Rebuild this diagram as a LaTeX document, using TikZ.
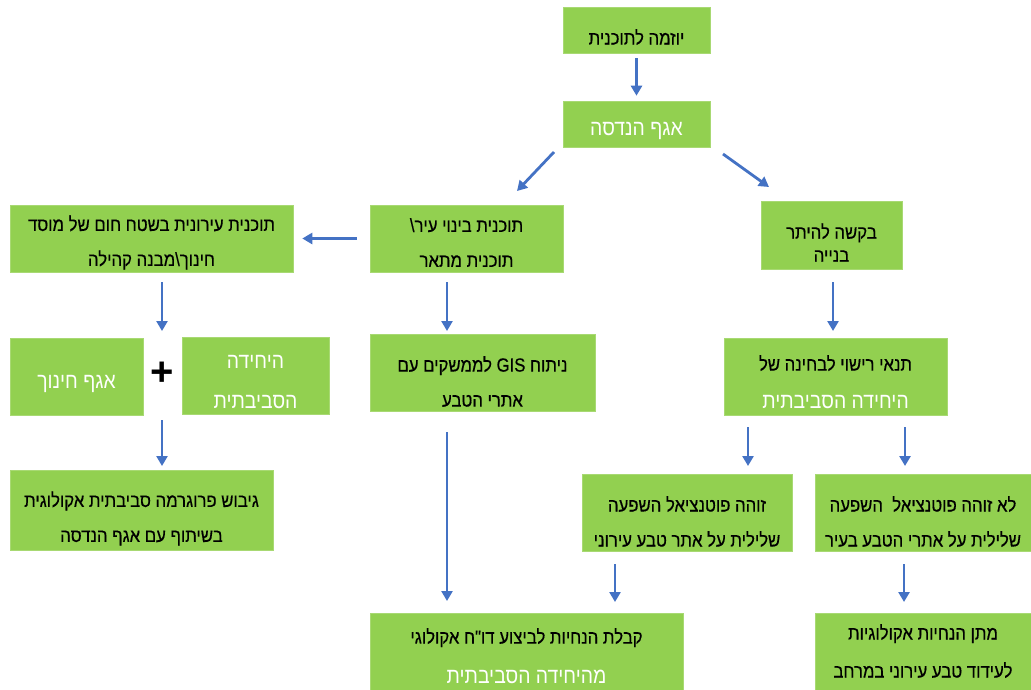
\documentclass[tikz,border=0pt]{standalone}
\usepackage{fontspec}
\usetikzlibrary{arrows.meta}
\newfontfamily\hebfont[Script=Hebrew, FakeStretch=0.88, FakeBold=0.4]{Liberation Sans}
\newfontfamily\hebwfont[Script=Hebrew, FakeStretch=0.88]{Liberation Sans}
\newfontfamily\plusfont{Liberation Sans}
\TeXXeTstate=1
\newcommand{\rl}[1]{\beginR #1\endR}
\newcommand{\wfont}[1]{\color{white}\hebwfont\fontsize{22}{#1}\selectfont}
\definecolor{boxgreen}{HTML}{92D050}
\definecolor{arrblue}{HTML}{4472C4}
\tikzset{
  box/.style={fill=boxgreen, draw=boxgreen!80!white, line width=0.6pt, inner sep=0pt},
  txt/.style={inner sep=0pt, align=center, text=black, font=\hebfont\fontsize{19}{35}\selectfont},
  wtxt/.style={inner sep=0pt, align=center, text=white, font=\hebwfont\fontsize{22}{40}\selectfont},
  arr/.style={draw=arrblue, line width=2.8pt, -{Triangle[length=10pt,width=11pt]}},
}
\begin{document}
\begin{tikzpicture}[x=1pt,y=-1pt]
\useasboundingbox (0,0) rectangle (1031,689);
% boxes
\node[box, minimum width=147, minimum height=46] (b1) at (636.5,30) {};
\node[box, minimum width=147, minimum height=46] (b2) at (636.5,124) {};
\node[box, minimum width=193, minimum height=67] (b3) at (466.5,238.5) {};
\node[box, minimum width=141, minimum height=68] (b4) at (831.5,235) {};
\node[box, minimum width=283, minimum height=67] (b5) at (151.5,238.5) {};
\node[box, minimum width=133, minimum height=77] (b6) at (76.5,376.5) {};
\node[box, minimum width=147, minimum height=77] (b7) at (255.5,375.5) {};
\node[box, minimum width=263, minimum height=80] (b8) at (141.5,510) {};
\node[box, minimum width=225, minimum height=77] (b9) at (482.5,372.5) {};
\node[box, minimum width=223, minimum height=77] (b10) at (835.5,376.5) {};
\node[box, minimum width=210, minimum height=77] (b11) at (687,512.5) {};
\node[box, minimum width=216, minimum height=77] (b12) at (923,512.5) {};
\node[box, minimum width=313, minimum height=78] (b13) at (526.5,652) {};
\node[box, minimum width=216, minimum height=78] (b14) at (923,652) {};
% texts
\node[txt] (t1) at (636.5,37) {\beginR יוזמה לתוכנית\endR};
\node[wtxt] (t2) at (636.5,131) {\beginR אגף הנדסה\endR};
\node[txt] (t3) at (466.5,242.5) {\beginR תוכנית בינוי עיר\textbackslash\endR\\\beginR תוכנית מתאר\endR};
\node[txt, font=\hebfont\fontsize{19}{23}\selectfont] (t4) at (831.5,242.5) {\beginR בקשה להיתר\endR\\\beginR בנייה\endR};
\node[txt] (t5) at (151.5,242.5) {\beginR תוכנית עירונית בשטח חום של מוסד\endR\\\beginR חינוך\textbackslash מבנה קהילה\endR};
\node[wtxt] (t6) at (76.5,384) {\beginR אגף חינוך\endR};
\node[wtxt] (t7) at (255.5,382.5) {\beginR היחידה\endR\\\beginR הסביבתית\endR};
\node[font=\plusfont\bfseries\fontsize{40}{40}\selectfont, inner sep=0pt] (plus) at (162,374) {+};
\node[txt] (t8) at (141.5,518.5) {\beginR גיבוש פרוגרמה סביבתית אקולוגית\endR\\\beginR בשיתוף עם אגף הנדסה\endR};
\node[txt] (t9) at (482.5,381.5) {\beginR ניתוח \beginL GIS\endL{} לממשקים עם\endR\\\beginR אתרי הטבע\endR};
\node[txt, font=\hebfont\fontsize{19}{38}\selectfont] (t10) at (835.5,382) {\beginR תנאי רישוי לבחינה של\endR\\{\wfont{38}\beginR היחידה הסביבתית\endR}};
\node[txt] (t11) at (687,521.5) {\beginR זוהה פוטנציאל השפעה\endR\\\beginR שלילית על אתר טבע עירוני\endR};
\node[txt] (t12) at (923,521.5) {\beginR לא זוהה פוטנציאל\ \ השפעה\endR\\\beginR שלילית על אתרי הטבע בעיר\endR};
\node[txt, font=\hebfont\fontsize{19}{40}\selectfont] (t13) at (526.5,656) {\beginR קבלת הנחיות לביצוע דו"ח אקולוגי\endR\\{\wfont{40}\beginR מהיחידה הסביבתית\endR}};
\node[txt, font=\hebfont\fontsize{19}{38}\selectfont] (t14) at (923,651) {\beginR מתן הנחיות אקולוגיות\endR\\\beginR לעידוד טבע עירוני במרחב\endR};
% connector end points
\coordinate (d1s) at (554,152); \coordinate (d1e) at (517,191);
\coordinate (d2s) at (723,154); \coordinate (d2e) at (769,187);
\coordinate (l1s) at (162,282); \coordinate (l1e) at (162,331);
\coordinate (l2s) at (162,420); \coordinate (l2e) at (162,466);
\coordinate (m1s) at (447,282); \coordinate (m1e) at (447,331);
\coordinate (m2s) at (447,432); \coordinate (m2e) at (447,601);
\coordinate (r1s) at (833,282); \coordinate (r1e) at (833,331);
\coordinate (r2s) at (748,427); \coordinate (r2e) at (748,466);
\coordinate (r3s) at (905,427); \coordinate (r3e) at (905,466);
\coordinate (r4s) at (615,564); \coordinate (r4e) at (615,602);
\coordinate (r5s) at (904,564); \coordinate (r5e) at (904,602);
% connectors
\draw[arr, shorten <=5pt, shorten >=5pt] (b1) -- (b2);
\draw[arr] (d1s) -- (d1e);
\draw[arr] (d2s) -- (d2e);
\draw[arr, shorten <=13pt, shorten >=9pt] (b3.west) -- (b5.east);
\draw[arr] (l1s) -- (l1e);
\draw[arr] (l2s) -- (l2e);
\draw[arr] (m1s) -- (m1e);
\draw[arr] (m2s) -- (m2e);
\draw[arr] (r1s) -- (r1e);
\draw[arr] (r2s) -- (r2e);
\draw[arr] (r3s) -- (r3e);
\draw[arr] (r4s) -- (r4e);
\draw[arr] (r5s) -- (r5e);
\end{tikzpicture}
\end{document}
